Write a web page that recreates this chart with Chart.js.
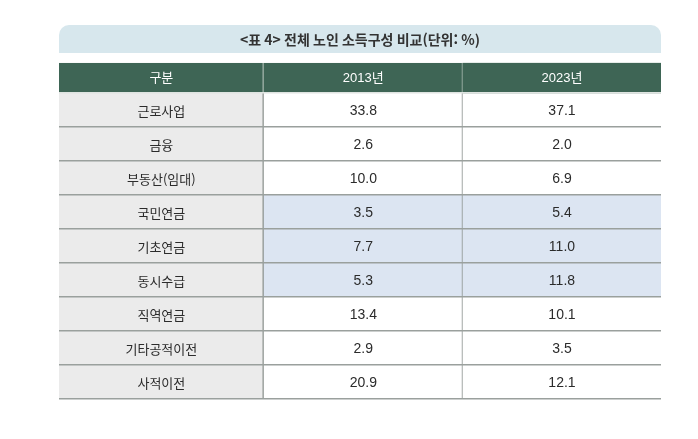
<!DOCTYPE html>
<html lang="ko">
<head>
<meta charset="utf-8">
<script src="https://cdn.jsdelivr.net/npm/chart.js@4.4.1/dist/chart.umd.min.js"></script>
<style>
  html, body { margin: 0; padding: 0; background: #fff; }
  #wrap { width: 698px; height: 439px; position: relative; }
</style>
</head>
<body>
<div id="wrap"><canvas id="table4"></canvas></div>
<script>
const titleText = '<표 4> 전체 노인 소득구성 비교(단위: %)';
const headers = ['구분', '2013년', '2023년'];
const categories = ['근로사업', '금융', '부동산(임대)', '국민연금', '기초연금', '동시수급', '직역연금', '기타공적이전', '사적이전'];
const values2013 = [33.8, 2.6, 10.0, 3.5, 7.7, 5.3, 13.4, 2.9, 20.9];
const values2023 = [37.1, 2.0, 6.9, 5.4, 11.0, 11.8, 10.1, 3.5, 12.1];
const highlighted = ['국민연금', '기초연금', '동시수급'];

// grid layout in axis units: 3 columns on x, one unit per row on y
const colEdges = [0, 1.02, 2.013, 3];
const headerRows = 30 / 34;

const FONT = "'Noto Sans CJK KR', 'Noto Sans', sans-serif";
const NUM_FONT = "'Liberation Sans', 'Noto Sans CJK KR', sans-serif";
Chart.defaults.font.family = FONT;

const headerData = headers.map((h, c) => ({ x: [colEdges[c], colEdges[c + 1]], y: -headerRows / 2 }));

const bodyData = [];
const bodyText = [];
categories.forEach((cat, r) => {
  const cells = [cat, values2013[r].toFixed(1), values2023[r].toFixed(1)];
  cells.forEach((t, c) => {
    bodyData.push({ x: [colEdges[c], colEdges[c + 1]], y: r + 0.5 });
    bodyText.push(t);
  });
});

function bodyColor(ctx) {
  const c = ctx.dataIndex % 3;
  const r = Math.floor(ctx.dataIndex / 3);
  if (c === 0) return '#ebebeb';
  return highlighted.includes(categories[r]) ? '#dce5f2' : '#ffffff';
}

// light blue bar behind the title
const titleBar = {
  id: 'titleBar',
  beforeDraw(chart) {
    const { ctx, chartArea, titleBlock } = chart;
    ctx.save();
    ctx.fillStyle = '#d7e7ed';
    ctx.beginPath();
    ctx.roundRect(chartArea.left, titleBlock.top, chartArea.right - chartArea.left, 28, [10, 10, 0, 0]);
    ctx.fill();
    ctx.restore();
  }
};

// cell texts at the centre of each bar
const cellText = {
  id: 'cellText',
  afterDatasetsDraw(chart) {
    const ctx = chart.ctx;
    chart.data.datasets.forEach((ds, i) => {
      const meta = chart.getDatasetMeta(i);
      ctx.save();
      ctx.fillStyle = ds.textColor;
      ctx.textAlign = 'center';
      ctx.textBaseline = 'middle';
      meta.data.forEach((el, j) => {
        const p = el.getCenterPoint();
        ctx.font = ds.textFont(j);
        ctx.fillText(ds.cellText[j], p.x, p.y + 1);
      });
      ctx.restore();
    });
  }
};

new Chart(document.getElementById('table4'), {
  type: 'bar',
  data: {
    datasets: [{
      data: headerData,
      yAxisID: 'yh',
      cellText: headers,
      textFont: j => '13px ' + NUM_FONT,
      textColor: '#ffffff',
      backgroundColor: '#3e6555',
      borderColor: '#a3b5ac',
      borderWidth: ctx => ctx.dataIndex < 2 ? { right: 1.5 } : 0,
      borderSkipped: false,
      grouped: false,
      barPercentage: 1,
      categoryPercentage: 1
    }, {
      data: bodyData,
      yAxisID: 'y',
      cellText: bodyText,
      textFont: j => j % 3 === 0 ? '13px ' + FONT : '14px ' + NUM_FONT,
      textColor: '#2b2b2b',
      backgroundColor: bodyColor,
      borderColor: '#8e9491',
      borderWidth: ctx => ctx.dataIndex % 3 < 2 ? { right: 1.5 } : 0,
      borderSkipped: false,
      grouped: false,
      barPercentage: 1,
      categoryPercentage: 1
    }]
  },
  options: {
    indexAxis: 'y',
    responsive: true,
    maintainAspectRatio: false,
    animation: false,
    layout: { padding: { left: 59, right: 37, top: 25, bottom: 40 } },
    plugins: {
      legend: { display: false },
      tooltip: { enabled: false },
      title: {
        display: true,
        text: titleText,
        color: '#333333',
        font: { size: 14, weight: 'bold' },
        padding: { top: 6, bottom: 15 }
      }
    },
    scales: {
      x: { type: 'linear', min: 0, max: 3, display: false, beginAtZero: false },
      y: {
        type: 'linear',
        reverse: true,
        offset: false,
        min: -headerRows,
        max: categories.length,
        afterBuildTicks: axis => {
          axis.ticks = categories.map((_, i) => ({ value: i })).concat({ value: categories.length });
        },
        ticks: { display: false },
        border: { display: false },
        grid: {
          z: 1,
          offset: false,
          drawTicks: false,
          lineWidth: 1.5,
          color: c => (c.tick && c.tick.value === 0) ? '#dfe4e1' : '#9aa09d'
        }
      },
      yh: {
        type: 'linear',
        reverse: true,
        offset: false,
        min: -headerRows,
        max: categories.length,
        display: false,
        grid: { offset: false },
        afterBuildTicks: axis => {
          axis.ticks = [{ value: -headerRows }, { value: 0 }];
        }
      }
    }
  },
  plugins: [titleBar, cellText]
});
</script>
</body>
</html>
